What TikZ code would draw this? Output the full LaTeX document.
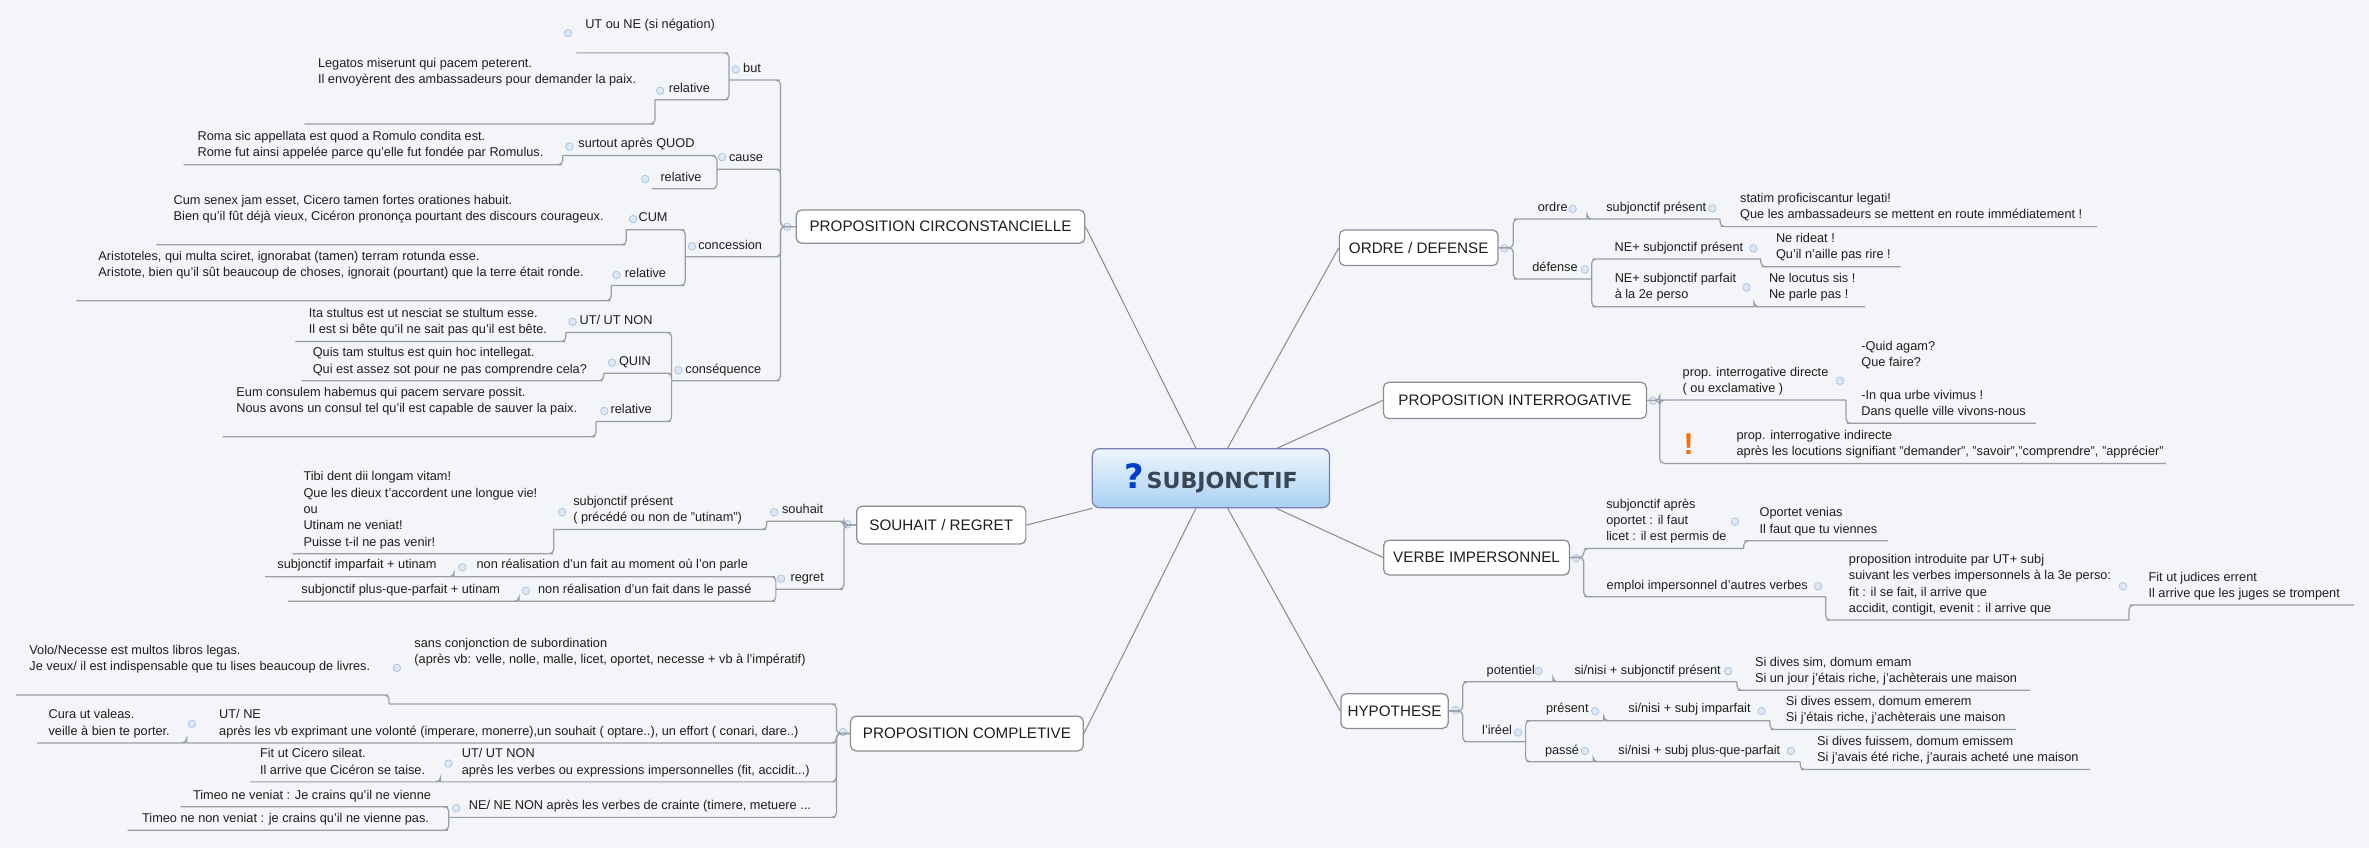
\documentclass[tikz,border=0pt]{standalone}
\usepackage{fontspec}
\setmainfont{Liberation Sans}
\newfontfamily\titlefont{DejaVu Sans}
\usetikzlibrary{calc, shapes, positioning, backgrounds}
\definecolor{bgcol}{HTML}{F3F5F8}
\definecolor{lncol}{HTML}{9A9EA4}
\definecolor{txcol}{HTML}{1E1E1E}
\definecolor{knobfill}{HTML}{DCE8F5}
\definecolor{knobline}{HTML}{A8C2DE}
\definecolor{titletop}{HTML}{EEF6FE}
\definecolor{titlebot}{HTML}{A9D0F4}
\definecolor{titletx}{HTML}{3A4654}
\tikzstyle{lnk}=[draw=lncol, line width=0.7pt, rounded corners=2.5pt]

\begin{document}
\begin{tikzpicture}[x=0.03cm, y=-0.03cm]
            \tikzset{sub/.style = {text=txcol, font=\fontsize{7.2}{9.2}\selectfont, align=left, inner xsep=1pt, inner ysep=1.4pt, execute at end node=\strut}}
            \tikzset{lsub/.style = {sub, anchor=south east}}
            \tikzset{rsub/.style = {sub, anchor=south west}}
            \tikzset{uw/.style = {minimum width=#1*0.03cm}}
            \tikzset{topic/.style = {draw=lncol!90!black, fill=white, rounded corners=3pt, line width=0.7pt, text=txcol, font=\fontsize{8.6}{10}\selectfont, minimum height=22*0.03cm, inner sep=1pt}}
            \tikzset{spoke/.style = {draw=lncol!90!black, line width=0.6pt}}
            \tikzset{knob/.style = {circle, draw=knobline, fill=knobfill, line width=0.4pt, minimum size=5*0.03cm, inner sep=0pt}}
            \fill[bgcol] (0,0) rectangle (1568,561);

            % central topic
            \node[draw=lncol!80!blue, rounded corners=4pt, top color=titletop, bottom color=titlebot, line width=0.7pt, minimum width=157*0.03cm, minimum height=39*0.03cm, inner sep=0pt] (subj) at (801.5,316.5)
              {\titlefont\bfseries{\color{blue!70!cyan!80!black}\fontsize{19}{19}\selectfont ?}\,{\color{titletx}\fontsize{12.5}{14}\selectfont SUBJONCTIF}};

            % main topics
            \node[topic, uw=191] (circ) at (622.5,150) {PROPOSITION CIRCONSTANCIELLE};
            \node[topic, uw=112, minimum height=25*0.03cm] (souh) at (623,347.5) {SOUHAIT / REGRET};
            \node[topic, uw=154, minimum height=23*0.03cm] (compl) at (640,485.5) {PROPOSITION COMPLETIVE};
            \node[topic, uw=105, minimum height=23.5*0.03cm] (ordre) at (939,164) {ORDRE / DEFENSE};
            \node[topic, uw=174, minimum height=24*0.03cm] (inter) at (1002.7,265) {PROPOSITION INTERROGATIVE};
            \node[topic, uw=123, minimum height=23*0.03cm] (verbe) at (977.3,369) {VERBE IMPERSONNEL};
            \node[topic, uw=71, minimum height=23*0.03cm] (hypo) at (923,470.6) {HYPOTHESE};

            \draw[spoke] (subj) -- (circ.east);
            \draw[spoke] (subj) -- (souh.east);
            \draw[spoke] (subj) -- (compl.east);
            \draw[spoke] (subj) -- (ordre.west);
            \draw[spoke] (subj) -- (inter.west);
            \draw[spoke] (subj) -- (verbe.west);
            \draw[spoke] (subj) -- (hypo.west);

            % proposition circonstancielle
            \node[lsub, uw=30] (but) at (513,53) {but};
            \node[lsub, uw=97] (utne) at (479,35) {UT ou NE (si négation)\\~};
            \node[lsub, uw=45] (relbut) at (479,66) {relative};
            \node[lsub, uw=228] (legatos) at (430,82) {Legatos miserunt qui pacem peterent.\\Il envoyèrent des ambassadeurs pour demander la paix.\\~\\~};
            \node[lsub, uw=38] (cause) at (513,112) {cause};
            \node[lsub, uw=97] (quod) at (470,103) {surtout après QUOD};
            \node[lsub, uw=247] (roma) at (369,109) {Roma sic appellata est quod a Romulo condita est.\\Rome fut ainsi appelée parce qu'elle fut fondée par Romulus.};
            \node[lsub, uw=38] (relcause) at (470,125) {relative};
            \node[lsub, uw=59] (conc) at (513,170) {concession};
            \node[lsub, uw=35] (cum) at (450,152) {CUM};
            \node[lsub, uw=307] (senex) at (411,162) {Cum senex jam esset, Cicero tamen fortes orationes habuit.\\Bien qu'il fût déjà vieux, Cicéron prononça pourtant des discours courageux.\\~};
            \node[lsub, uw=45] (relconc) at (450,189) {relative};
            \node[lsub, uw=350] (aristo) at (401,199) {Aristoteles, qui multa sciret, ignorabat (tamen) terram rotunda esse.\\Aristote, bien qu'il sût beaucoup de choses, ignorait (pourtant) que la terre était ronde.\\~};
            \node[lsub, uw=68] (csq) at (513,252) {conséquence};
            \node[lsub, uw=66] (utut) at (441,220) {UT/ UT NON};
            \node[lsub, uw=175] (ita) at (371,226) {Ita stultus est ut nesciat se stultum esse.\\Il est si bête qu'il ne sait pas qu'il est bête.};
            \node[lsub, uw=41] (quin) at (441,247) {QUIN};
            \node[lsub, uw=196] (quis) at (396,252) {Quis tam stultus est quin hoc intellegat.\\Qui est assez sot pour ne pas comprendre cela?};
            \node[lsub, uw=46] (relcsq) at (441,279) {relative};
            \node[lsub, uw=243] (eum) at (391,289) {Eum consulem habemus qui pacem servare possit.\\Nous avons un consul tel qu'il est capable de sauver la paix.\\~};

            % souhait / regret
            \node[lsub, uw=47] (souhait) at (555,345) {souhait};
            \node[lsub, uw=137] (subjpres) at (504,350.4) {subjonctif présent\\( précédé ou non de "utinam")};
            \node[lsub, uw=169] (tibi) at (363,366.5) {Tibi dent dii longam vitam!\\Que les dieux t'accordent une longue vie!\\ ou\\Utinam ne veniat!\\Puisse t-il ne pas venir!};
            \node[lsub, uw=41] (regret) at (555,390) {regret};
            \node[lsub, uw=209] (nonreal) at (510,381.7) {non réalisation d'un fait au moment où l'on parle};
            \node[lsub, uw=121] (subjimp) at (297,381.7) {subjonctif imparfait + utinam};
            \node[lsub, uw=166] (nonpasse) at (510,398) {non réalisation d'un fait dans le passé};
            \node[lsub, uw=149] (subjpqp) at (340,398) {subjonctif plus-que-parfait + utinam};

            % proposition completive
            \node[lsub, uw=292] (sansconj) at (550,466) {sans conjonction de subordination\\(après vb: velle, nolle, malle, licet, oportet, necesse + vb à l'impératif)\\~\\~};
            \node[lsub, uw=243] (volo) at (254,460) {Volo/Necesse est multos libros legas.\\Je veux/ il est indispensable que tu lises beaucoup de livres.\\~};
            \node[lsub, uw=426] (utne2) at (550,491.7) {UT/ NE\\après les vb exprimant une volonté (imperare, monerre),un souhait ( optare..), un effort ( conari, dare..)};
            \node[lsub, uw=95] (cura) at (120,491.7) {Cura ut valeas.\\veille à bien te porter.};
            \node[lsub, uw=258] (utut2) at (550,517.5) {UT/ UT NON\\après les verbes ou expressions impersonnelles (fit, accidit...)};
            \node[lsub, uw=122] (fitut) at (288,517.5) {Fit ut Cicero sileat.\\Il arrive que Cicéron se taise.};
            \node[lsub, uw=252.5] (nene) at (550,541) {NE/ NE NON après les verbes de crainte (timere, metuere ...};
            \node[lsub, uw=173.5] (timeo) at (293.5,534) {Timeo ne veniat : Je crains qu'il ne vienne};
            \node[lsub, uw=208.5] (timeonon) at (293.5,549.5) {Timeo ne non veniat : je crains qu'il ne vienne pas.};

            % ordre / defense
            \node[rsub, uw=45] (ordr) at (1005,145) {ordre};
            \node[rsub, uw=84] (subjpres2) at (1054,145) {subjonctif présent};
            \node[rsub, uw=245.5] (statim) at (1142,150) {statim proficiscantur legati!\\Que les ambassadeurs se mettent en route immédiatement !};
            \node[rsub, uw=48] (defense) at (1005,184.7) {défense};
            \node[rsub, uw=108] (nepres) at (1057,171.4) {NE+ subjonctif présent};
            \node[rsub, uw=88.5] (rideat) at (1169,176.5) {Ne rideat !\\Qu'il n'aille pas rire !};
            \node[rsub, uw=103.5] (neparf) at (1057,203) {NE+ subjonctif parfait\\à la 2e perso};
            \node[rsub, uw=69.5] (locutus) at (1164.5,203) {Ne locutus sis !\\Ne parle pas !};

            % proposition interrogative
            \node[rsub, uw=119.4] (direct) at (1102,264.8) {prop. interrogative directe\\( ou exclamative )};
            \node[rsub, uw=121.6] (quid) at (1225.4,280.2) {-Quid agam?\\ Que faire?\\~\\-In qua urbe vivimus !\\Dans quelle ville vivons-nous};
            \node[lsub] (indirect) at (1433.5,306.7) {prop. interrogative indirecte\\après les locutions signifiant "demander", "savoir","comprendre", "apprécier"};
            \node[text=orange!85!red, font=\bfseries\fontsize{17}{17}\selectfont, inner sep=0pt] (excl) at (1117.6,294) {!};

            % verbe impersonnel
            \node[rsub, uw=102] (apres) at (1051.7,363) {subjonctif après\\oportet : il faut\\licet : il est permis de};
            \node[rsub, uw=91.3] (oportet) at (1157.7,357.9) {Oportet venias\\Il faut que tu viennes};
            \node[rsub, uw=156.2] (emploi) at (1051.7,395) {emploi impersonnel d'autres verbes};
            \node[rsub, uw=196.8] (intro) at (1211.9,410.4) {proposition introduite par UT+ subj\\suivant les verbes impersonnels à la 3e perso:\\fit : il se fait, il arrive que\\accidit, contigit, evenit : il arrive que};
            \node[rsub, uw=144.9] (judices) at (1412.7,400.5) {Fit ut judices errent\\Il arrive que les juges se trompent};

            % hypothese
            \node[rsub, uw=55.4] (potent) at (972,451.3) {potentiel};
            \node[rsub, uw=117.8] (sinisi) at (1031.4,451.3) {si/nisi + subjonctif présent};
            \node[rsub, uw=189.8] (sim) at (1153.2,456.8) {Si dives sim, domum emam\\Si un jour j'étais riche, j'achèterais une maison};
            \node[rsub, uw=37.3] (ireel) at (972,491) {l'iréel};
            \node[rsub, uw=47.7] (present) at (1013.3,477) {présent};
            \node[rsub, uw=106] (siimp) at (1065,477) {si/nisi + subj imparfait};
            \node[rsub, uw=159] (essem) at (1175,482.8) {Si dives essem, domum emerem\\Si j'étais riche, j'achèterais une maison};
            \node[rsub, uw=40.7] (passe) at (1013.3,504.2) {passé};
            \node[rsub, uw=133] (sipqp) at (1058,504.2) {si/nisi + subj plus-que-parfait};
            \node[rsub, uw=188] (fuissem) at (1195,509.3) {Si dives fuissem, domum emissem\\Si j'avais été riche, j'aurais acheté une maison};

            % knobs
            \foreach \kx/\ky [count=\k] in {376/22, 487/46, 437/60, 478/104, 377/97, 427/118.5, 458/163, 419/145, 408/182, 449/245, 379/213, 405/240, 400/272, 521/150,
                512.5/339, 372/339, 517/383, 306/375.5, 348/391, 561/347,
                262.7/442, 127/479, 296.8/505.4, 302/535, 558/484.5,
                995.8/164.4, 1040.9/138.3, 1133.4/138, 1049/178.3, 1160.5/164.4, 1156/190.2,
                1094/265.2, 1217.8/252, 1043.2/369.6, 1148.3/345.3, 1203.4/388, 1405.1/388,
                963.3/470, 1018.3/444.2, 1143.8/444.2, 1004.8/484.8, 1055.8/470.7, 1165.9/470.7, 1049/497, 1185.3/497}
              \node[knob] (kn\k) at (\kx,\ky) {};

            %edges
            \draw[lnk] (circ.west) -- ++(-10,0) |- (but.south east) -- (but.south west);
            \draw[lnk] (circ.west) -- ++(-10,0) |- (cause.south east) -- (cause.south west);
            \draw[lnk] (circ.west) -- ++(-10,0) |- (conc.south east) -- (conc.south west);
            \draw[lnk] (circ.west) -- ++(-10,0) |- (csq.south east) -- (csq.south west);
            \draw[lnk] (but.south west) |- (utne.south east) -- (utne.south west);
            \draw[lnk] (but.south west) |- (relbut.south east) -- (relbut.south west);
            \draw[lnk] (relbut.south west) |- (legatos.south east) -- (legatos.south west);
            \draw[lnk] (cause.south west) |- (quod.south east) -- (quod.south west);
            \draw[lnk] (cause.south west) |- (relcause.south east) -- (relcause.south west);
            \draw[lnk] (quod.south west) |- (roma.south east) -- (roma.south west);
            \draw[lnk] (conc.south west) |- (cum.south east) -- (cum.south west);
            \draw[lnk] (conc.south west) |- (relconc.south east) -- (relconc.south west);
            \draw[lnk] (cum.south west) |- (senex.south east) -- (senex.south west);
            \draw[lnk] (relconc.south west) |- (aristo.south east) -- (aristo.south west);
            \draw[lnk] (csq.south west) |- (utut.south east) -- (utut.south west);
            \draw[lnk] (csq.south west) |- (quin.south east) -- (quin.south west);
            \draw[lnk] (csq.south west) |- (relcsq.south east) -- (relcsq.south west);
            \draw[lnk] (utut.south west) |- (ita.south east) -- (ita.south west);
            \draw[lnk] (quin.south west) |- (quis.south east) -- (quis.south west);
            \draw[lnk] (relcsq.south west) |- (eum.south east) -- (eum.south west);

            \draw[lnk] (souh.west) -- ++(-8,0) |- (souhait.south east) -- (souhait.south west);
            \draw[lnk] (souh.west) -- ++(-8,0) |- (regret.south east) -- (regret.south west);
            \draw[lnk] (souhait.south west) |- (subjpres.south east) -- (subjpres.south west);
            \draw[lnk] (subjpres.south west) |- (tibi.south east) -- (tibi.south west);
            \draw[lnk] (regret.south west) |- (nonreal.south east) -- (nonreal.south west);
            \draw[lnk] (regret.south west) |- (nonpasse.south east) -- (nonpasse.south west);
            \draw[lnk] (nonreal.south west) |- (subjimp.south east) -- (subjimp.south west);
            \draw[lnk] (nonpasse.south west) |- (subjpqp.south east) -- (subjpqp.south west);

            \draw[lnk] (compl.west) -- ++(-9,0) |- (sansconj.south east) -- (sansconj.south west);
            \draw[lnk] (compl.west) -- ++(-9,0) |- (utne2.south east) -- (utne2.south west);
            \draw[lnk] (compl.west) -- ++(-9,0) |- (utut2.south east) -- (utut2.south west);
            \draw[lnk] (compl.west) -- ++(-9,0) |- (nene.south east) -- (nene.south west);
            \draw[lnk] (sansconj.south west) |- (volo.south east) -- (volo.south west);
            \draw[lnk] (utne2.south west) |- (cura.south east) -- (cura.south west);
            \draw[lnk] (utut2.south west) |- (fitut.south east) -- (fitut.south west);
            \draw[lnk] (nene.south west) |- (timeo.south east) -- (timeo.south west);
            \draw[lnk] (nene.south west) |- (timeonon.south east) -- (timeonon.south west);

            \draw[lnk] (ordre.east) -- ++(9.7,0) |- (ordr.south west) -- (ordr.south east);
            \draw[lnk] (ordre.east) -- ++(9.7,0) |- (defense.south west) -- (defense.south east);
            \draw[lnk] (ordr.south east) |- (subjpres2.south west) -- (subjpres2.south east);
            \draw[lnk] (subjpres2.south east) |- (statim.south west) -- (statim.south east);
            \draw[lnk] (defense.south east) |- (nepres.south west) -- (nepres.south east);
            \draw[lnk] (defense.south east) |- (neparf.south west) -- (neparf.south east);
            \draw[lnk] (nepres.south east) |- (rideat.south west) -- (rideat.south east);
            \draw[lnk] (neparf.south east) |- (locutus.south west) -- (locutus.south east);

            \draw[lnk] (inter.east) -- ++(8.4,0) |- (direct.south west) -- (direct.south east);
            \draw[lnk] (inter.east) -- ++(8.4,0) |- (indirect.south west) -- (indirect.south east);
            \draw[lnk] (direct.south east) |- (quid.south west) -- (quid.south east);

            \draw[lnk] (verbe.east) -- ++(9,0) |- (apres.south west) -- (apres.south east);
            \draw[lnk] (verbe.east) -- ++(9,0) |- (emploi.south west) -- (emploi.south east);
            \draw[lnk] (apres.south east) |- (oportet.south west) -- (oportet.south east);
            \draw[lnk] (emploi.south east) |- (intro.south west) -- (intro.south east);
            \draw[lnk] (intro.south east) |- (judices.south west) -- (judices.south east);

            \draw[lnk] (hypo.east) -- ++(9.2,0) |- (potent.south west) -- (potent.south east);
            \draw[lnk] (hypo.east) -- ++(9.2,0) |- (ireel.south west) -- (ireel.south east);
            \draw[lnk] (potent.south east) |- (sinisi.south west) -- (sinisi.south east);
            \draw[lnk] (sinisi.south east) |- (sim.south west) -- (sim.south east);
            \draw[lnk] (ireel.south east) |- (present.south west) -- (present.south east);
            \draw[lnk] (ireel.south east) |- (passe.south west) -- (passe.south east);
            \draw[lnk] (present.south east) |- (siimp.south west) -- (siimp.south east);
            \draw[lnk] (siimp.south east) |- (essem.south west) -- (essem.south east);
            \draw[lnk] (passe.south east) |- (sipqp.south west) -- (sipqp.south east);
            \draw[lnk] (sipqp.south east) |- (fuissem.south west) -- (fuissem.south east);
\end{tikzpicture}
\end{document}
